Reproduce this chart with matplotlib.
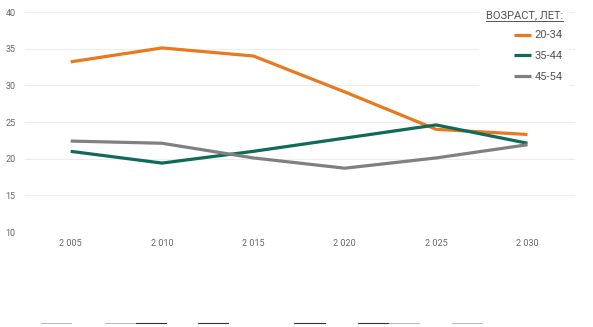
import matplotlib
matplotlib.use("Agg")
import matplotlib.pyplot as plt
from matplotlib.lines import Line2D

years = [2005, 2010, 2015, 2020, 2025, 2030]
year_labels = ["2 005", "2 010", "2 015", "2 020", "2 025", "2 030"]
age_20_34 = [33.2, 35.1, 34.0, 29.1, 24.0, 23.3]
age_35_44 = [21.0, 19.4, 21.0, 22.8, 24.6, 22.1]
age_45_54 = [22.4, 22.1, 20.1, 18.7, 20.1, 21.9]
series_names = ["20-34", "35-44", "45-54"]
colors = ["#E8791E", "#0E6B5A", "#808080"]
y_ticks = [10, 15, 20, 25, 30, 35, 40]

plt.rcParams['font.family'] = ['Roboto', 'DejaVu Sans']

fig = plt.figure(figsize=(5.93, 3.27), dpi=100)
ax = fig.add_axes([25 / 593, 1 - 232 / 327, 550 / 593, 220 / 327])

handles = []
for vals, name, c in zip([age_20_34, age_35_44, age_45_54], series_names, colors):
    h, = ax.plot(years, vals, color=c, lw=2.3, solid_capstyle='butt', label=name)
    handles.append(h)

ax.set_xlim(2002.5, 2032.6)
ax.set_ylim(10, 40)
ax.set_yticks(y_ticks)
ax.set_xticks(years)
ax.set_xticklabels(year_labels)
ax.grid(axis='y', color='#EDEDED', lw=0.8)
ax.set_axisbelow(True)
for s in ax.spines.values():
    s.set_visible(False)
ax.tick_params(axis='both', length=0, labelsize=6.5, colors='#666666')
ax.tick_params(axis='x', pad=5)
ax.yaxis.set_tick_params(pad=14)
for t in ax.get_yticklabels():
    t.set_horizontalalignment('left')

leg = ax.legend(handles=handles, loc='upper right', bbox_to_anchor=(1.0, 1.065),
                frameon=True, fontsize=8, handlelength=1.6, handletextpad=0.3,
                labelspacing=0.95, borderpad=0.6, title="ВОЗРАСТ, ЛЕТ:",
                title_fontsize=8, alignment='right')
leg.get_frame().set_facecolor('white')
leg.get_frame().set_edgecolor('none')
leg.get_frame().set_alpha(1)
leg.get_title().set_color('#555555')
for t in leg.get_texts():
    t.set_color('#555555')
fig.canvas.draw()
tb = leg.get_title().get_window_extent()
fig.add_artist(Line2D([tb.x0 / 593, tb.x1 / 593], [(tb.y0 - 1) / 327] * 2,
                      color='#555555', lw=0.7))

# short strokes along the bottom edge
strokes = [(41, 71, '#BBBBBB'), (105, 135, '#BBBBBB'), (136, 166, '#333333'),
           (198, 228, '#333333'), (294, 325, '#333333'), (358, 388, '#333333'),
           (389, 419, '#BBBBBB'), (452, 482, '#BBBBBB')]
for x0, x1, c in strokes:
    fig.add_artist(Line2D([x0 / 593, x1 / 593], [1 - 323 / 327] * 2, color=c, lw=0.8))

fig.savefig("out.png", dpi=100)
